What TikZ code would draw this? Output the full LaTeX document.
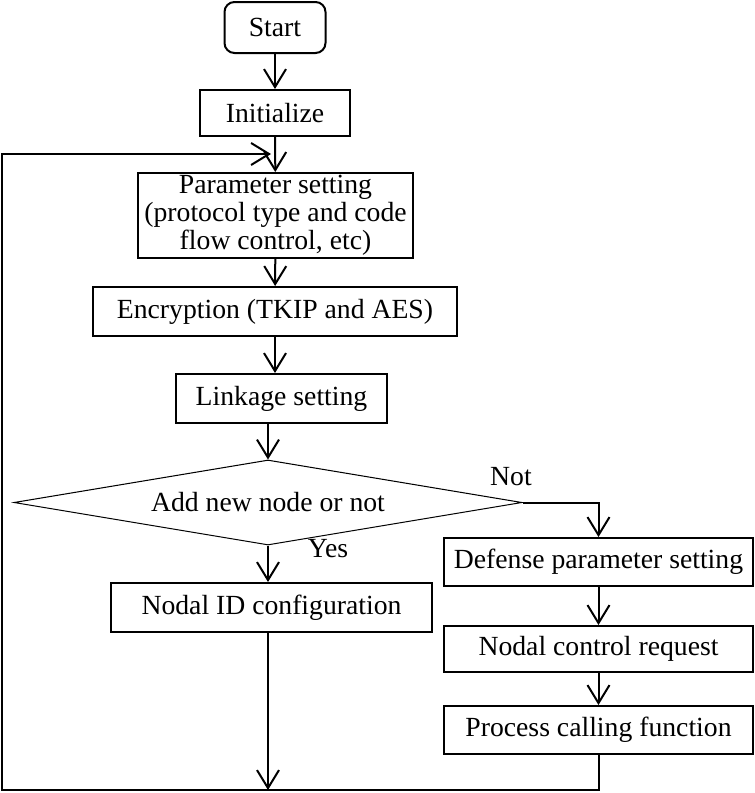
\documentclass[tikz,border=0pt]{standalone}
\usepackage{fontspec}
\setmainfont{Liberation Serif}
\usetikzlibrary{shapes}
\usetikzlibrary{arrows.meta}

\begin{document}
\begin{tikzpicture}[x=1pt, y=-1pt,
    every node/.style={font=\fontsize{27.7}{28}\selectfont, inner sep=0pt},
    box/.style={draw, line width=2pt, align=center},
    decision/.style={draw, diamond, aspect=6, line width=1pt},
    flow/.style={line width=2pt, -{Straight Barb[length=18pt, width=22pt, line width=2pt]}}]
  \useasboundingbox (0,0) rectangle (755,793);

  \node[box, rounded corners=10pt, minimum width=101pt, minimum height=51pt] (start) at (275,27.5) {Start};
  \node[box, minimum width=150pt, minimum height=46pt] (init) at (275,113) {Initialize};
  \node[box, minimum width=275pt, minimum height=85pt] (param) at (275.5,215.5) {Parameter setting\\(protocol type and code\\flow control, etc)};
  \node[box, minimum width=364pt, minimum height=49pt] (encrypt) at (275,311.5) {Encryption (TKIP and AES)};
  \node[box, minimum width=211pt, minimum height=49pt] (linkage) at (281.5,398.5) {Linkage setting};
  \node[decision, minimum width=508pt, minimum height=85pt] (addnode) at (268,502.5) {Add new node or not};
  \node[box, minimum width=321pt, minimum height=49pt] (nodalid) at (271.5,607.5) {Nodal ID configuration};

  \node[box, minimum width=309pt, minimum height=48pt] (defense) at (598.5,562) {Defense parameter setting};
  \node[box, minimum width=309pt, minimum height=46pt] (control) at (598.5,649) {Nodal control request};
  \node[box, minimum width=309pt, minimum height=48pt] (process) at (598.5,730) {Process calling function};

  \node (yes) at (328,549) {Yes};
  \node (not) at (511,477) {Not};

  \coordinate (loopbl) at (2,790);
  \coordinate (loopend) at (271,154);

  \draw[flow] (start) -- (init);
  \draw[flow] (init) -- (param);
  \draw[flow] (param) -- (encrypt);
  \draw[flow] (encrypt) -- (linkage.north -| encrypt.south);
  \draw[flow] (linkage.south -| addnode.north) -- (addnode.north);
  \draw[flow] (addnode.south) -- (nodalid.north -| addnode.south);
  \draw[flow] (addnode.east) -| (defense.north);
  \draw[flow] (defense) -- (control);
  \draw[flow] (control) -- (process);
  \draw[flow] (nodalid.south -| addnode.south) -- (loopbl -| addnode.south);
  \draw[flow] (process.south) |- (loopbl) |- (loopend);

\end{tikzpicture}
\end{document}
